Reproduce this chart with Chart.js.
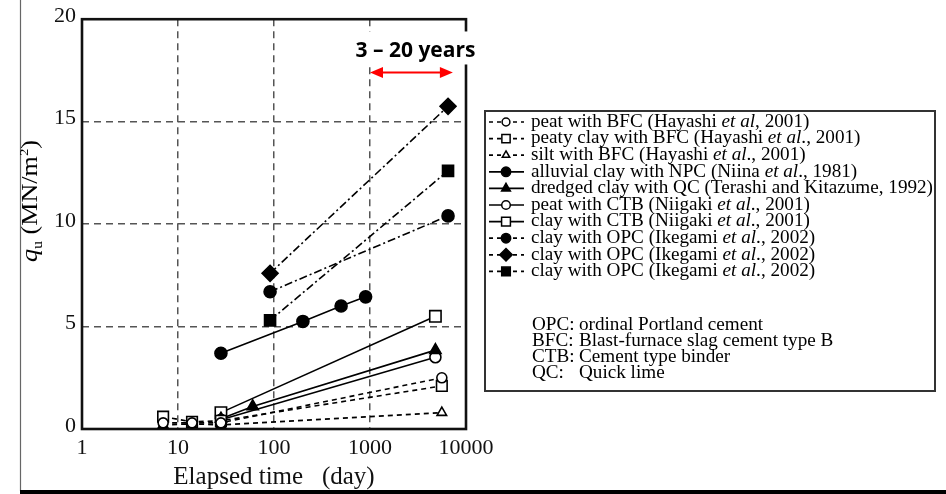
<!DOCTYPE html>
<html><head><meta charset="utf-8">
<script src="https://cdn.jsdelivr.net/npm/chart.js@4.4.1/dist/chart.umd.min.js"></script>
<style>html,body{margin:0;padding:0;background:#fff;overflow:hidden}
#wrap{position:relative;width:946px;height:494px}</style>
</head><body><div id="wrap"><canvas id="c" width="946" height="494"></canvas></div>
<script>
// ---------- data ----------
const xTicks = [1, 10, 100, 1000, 10000];
const yTicks = [0, 5, 10, 15, 20];

const bfcDays = [7, 14, 28, 5600];
const peatBFC = [0.3, 0.3, 0.3, 2.5];
const peatyClayBFC = [0.6, 0.35, 0.4, 2.1];
const siltBFC = [0.2, 0.25, 0.2, 0.8];

const npcDays = [28, 200, 500, 900];
const alluvialNPC = [3.7, 5.25, 6.0, 6.45];

const qcDays = [28, 60, 4800];
const dredgedQC = [0.5, 1.1, 3.85];

const ctbDays = [28, 4800];
const peatCTB = [0.45, 3.5];
const clayCTB = [0.8, 5.5];

const opcDays = [91, 6500];
const clayOPC1 = [6.7, 10.4];
const clayOPC2 = [7.6, 15.75];
const clayOPC3 = [5.3, 12.6];

const seriesLabels = [
  'peat with BFC (Hayashi et al, 2001)',
  'peaty clay with BFC (Hayashi et al., 2001)',
  'silt with BFC (Hayashi et al., 2001)',
  'alluvial clay with NPC (Niina et al., 1981)',
  'dredged clay with QC (Terashi and Kitazume, 1992)',
  'peat with CTB (Niigaki et al., 2001)',
  'clay with CTB (Niigaki et al., 2001)',
  'clay with OPC (Ikegami et al., 2002)',
  'clay with OPC (Ikegami et al., 2002)',
  'clay with OPC (Ikegami et al., 2002)'
];
const noteAbbr = ['OPC:', 'BFC:', 'CTB:', 'QC:'];
const noteText = ['ordinal Portland cement', 'Blast-furnace slag cement type B', 'Cement type binder', 'Quick lime'];

const spanDays = [1000, 7300];
const spanLevel = 17.4;
const spanLabel = '3 \u2013 20 years';

const xTitle = 'Elapsed time   (day)';
// ----------------------------------------------------

const SERIF = '"Liberation Serif", "Times New Roman", Times, serif';
const DASH = [5, 4];
const DASHDOT = [8, 3, 2, 3];

function pts(days, vals) { return days.map((d, i) => ({ x: d, y: vals[i] })); }
function ds(idx, days, vals, st) {
  return Object.assign({
    label: seriesLabels[idx], data: pts(days, vals), showLine: true,
    borderColor: '#000', borderWidth: 1.6, pointBorderColor: '#000', pointBorderWidth: 1.6,
    pointHoverRadius: st.pointRadius
  }, st);
}
const openPt = { pointBackgroundColor: '#fff' };
const fillPt = { pointBackgroundColor: '#000' };

const datasets = [
  ds(0, bfcDays, peatBFC, Object.assign({ borderDash: DASH, pointStyle: 'circle', pointRadius: 5 }, openPt)),
  ds(1, bfcDays, peatyClayBFC, Object.assign({ borderDash: DASH, pointStyle: 'rect', pointRadius: 7.5 }, openPt)),
  ds(2, bfcDays, siltBFC, Object.assign({ borderDash: DASH, pointStyle: 'triangle', pointRadius: 5.5 }, openPt)),
  ds(3, npcDays, alluvialNPC, Object.assign({ pointStyle: 'circle', pointRadius: 6 }, fillPt)),
  ds(4, qcDays, dredgedQC, Object.assign({ pointStyle: 'triangle', pointRadius: 6.5 }, fillPt)),
  ds(5, ctbDays, peatCTB, Object.assign({ pointStyle: 'circle', pointRadius: 5.5 }, openPt)),
  ds(6, ctbDays, clayCTB, Object.assign({ pointStyle: 'rect', pointRadius: 8 }, openPt)),
  ds(7, opcDays, clayOPC1, Object.assign({ borderDash: DASHDOT, pointStyle: 'circle', pointRadius: 6 }, fillPt)),
  ds(8, opcDays, clayOPC2, Object.assign({ borderDash: DASHDOT, pointStyle: 'rectRot', pointRadius: 8 }, fillPt)),
  ds(9, opcDays, clayOPC3, Object.assign({ borderDash: DASHDOT, pointStyle: 'rect', pointRadius: 7.8 }, fillPt))
];

function drawMarker(ctx, style, x, y, r, fill) {
  ctx.beginPath();
  if (style === 'circle') ctx.arc(x, y, r, 0, Math.PI * 2);
  else if (style === 'rect') { const s = r * Math.SQRT1_2; ctx.rect(x - s, y - s, 2 * s, 2 * s); }
  else if (style === 'rectRot') { ctx.moveTo(x, y - r); ctx.lineTo(x + r, y); ctx.lineTo(x, y + r); ctx.lineTo(x - r, y); ctx.closePath(); }
  else if (style === 'triangle') {
    const h = r * Math.sqrt(3) / 2;
    ctx.moveTo(x, y - r); ctx.lineTo(x + h, y + r / 2); ctx.lineTo(x - h, y + r / 2); ctx.closePath();
  }
  ctx.fillStyle = fill; ctx.fill(); ctx.stroke();
}

function drawRich(ctx, text, x, y, size, sx) {
  ctx.save();
  ctx.translate(x, y); ctx.scale(sx, 1);
  const parts = text.split(/(et al)/);
  let cx = 0;
  for (const p of parts) {
    if (!p) continue;
    ctx.font = (p === 'et al' ? 'italic ' : '') + size + 'px ' + SERIF;
    ctx.fillText(p, cx, 0);
    cx += ctx.measureText(p).width;
  }
  ctx.restore();
}

const framePlugin = {
  id: 'frame',
  beforeDraw(chart) {
    const ctx = chart.ctx;
    ctx.save();
    ctx.fillStyle = '#fff'; ctx.fillRect(0, 0, chart.width, chart.height);
    ctx.strokeStyle = '#666'; ctx.lineWidth = 1.2;
    ctx.beginPath(); ctx.moveTo(20.5, 0); ctx.lineTo(20.5, 491); ctx.stroke();
    ctx.fillStyle = '#000'; ctx.fillRect(20, 490, chart.width - 20, 4);
    ctx.restore();
  },
  beforeDatasetsDraw(chart) {
    const { ctx, chartArea: a } = chart;
    ctx.save();
    ctx.strokeStyle = '#111'; ctx.lineWidth = 2.6;
    ctx.strokeRect(a.left, a.top, a.right - a.left, a.bottom - a.top);
    ctx.restore();
  },
  afterDatasetsDraw(chart) {
    const { ctx } = chart;
    const xs = chart.scales.x, ys = chart.scales.y;
    const x1 = xs.getPixelForValue(spanDays[0]), x2 = xs.getPixelForValue(spanDays[1]);
    const ya = ys.getPixelForValue(spanLevel);
    ctx.save();
    ctx.font = 'bold 21px "Open Sans", "Liberation Sans", sans-serif';
    const w = ctx.measureText(spanLabel).width;
    const cx = (x1 + x2) / 2 + 4;
    ctx.fillStyle = '#fff';
    ctx.fillRect(cx - w / 2 - 4, ya - 41, w + 8, 33);
    ctx.fillStyle = '#000'; ctx.textAlign = 'center'; ctx.textBaseline = 'alphabetic';
    ctx.fillText(spanLabel, cx, ya - 15);
    // red double arrow
    ctx.strokeStyle = '#f00'; ctx.fillStyle = '#f00'; ctx.lineWidth = 2;
    ctx.beginPath(); ctx.moveTo(x1 + 8, ya); ctx.lineTo(x2 - 8, ya); ctx.stroke();
    ctx.beginPath(); ctx.moveTo(x1, ya); ctx.lineTo(x1 + 13, ya - 5.5); ctx.lineTo(x1 + 13, ya + 5.5); ctx.closePath(); ctx.fill();
    ctx.beginPath(); ctx.moveTo(x2, ya); ctx.lineTo(x2 - 13, ya - 5.5); ctx.lineTo(x2 - 13, ya + 5.5); ctx.closePath(); ctx.fill();
    ctx.restore();
  },
  afterDraw(chart) {
    const ctx = chart.ctx;
    ctx.save();
    // y-axis title  q_u (MN/m2)
    const yt = [['q', 'italic 23px', 0], ['u', '14px', 5], [' (MN/m', '23px', 0], ['2', '13px', -9], [')', '23px', 0]];
    let tot = 0;
    for (const [t, f] of yt) { ctx.font = f + ' ' + SERIF; tot += ctx.measureText(t).width; }
    const sy = 122 / tot;
    ctx.translate(37, 262); ctx.rotate(-Math.PI / 2); ctx.scale(sy, 1);
    ctx.fillStyle = '#000'; ctx.textBaseline = 'alphabetic';
    let px = 0;
    for (const [t, f, dy] of yt) { ctx.font = f + ' ' + SERIF; ctx.fillText(t, px, dy); px += ctx.measureText(t).width; }
    ctx.restore();

    // legend box
    ctx.save();
    ctx.strokeStyle = '#333'; ctx.lineWidth = 2;
    ctx.strokeRect(485, 111, 450, 280);
    ctx.font = '18px ' + SERIF;
    const sx = 402 / ctx.measureText(seriesLabels[4]).width;
    ctx.textBaseline = 'middle';
    chart.data.datasets.forEach((d, i) => {
      const y = 122 + i * 16.6;
      ctx.strokeStyle = '#000'; ctx.lineWidth = 1.7;
      ctx.setLineDash(d.borderDash ? [4, 4] : []);
      ctx.beginPath(); ctx.moveTo(489, y); ctx.lineTo(524, y); ctx.stroke();
      ctx.setLineDash([]); ctx.lineWidth = 1.5;
      drawMarker(ctx, d.pointStyle, 506, y, d.pointRadius * 0.78, d.pointBackgroundColor);
      ctx.fillStyle = '#000';
      drawRich(ctx, d.label, 531, y, 18, sx);
    });
    noteAbbr.forEach((t, i) => {
      const y = 325 + i * 16.2;
      drawRich(ctx, t, 532, y, 18, sx);
      drawRich(ctx, noteText[i], 579, y, 18, sx);
    });
    ctx.restore();
  }
};

const gridColor = c => (c.tick && (c.tick.value === c.scale.min || c.tick.value === c.scale.max)) ? 'rgba(0,0,0,0)' : '#555';

new Chart(document.getElementById('c'), {
  type: 'scatter',
  data: { datasets },
  options: {
    animation: false, responsive: false, events: [],
    layout: { padding: { left: 0, top: 16, right: 480, bottom: 0 } },
    plugins: { legend: { display: false }, tooltip: { enabled: false } },
    scales: {
      x: {
        type: 'logarithmic', min: xTicks[0], max: xTicks[xTicks.length - 1],
        afterBuildTicks: s => { s.ticks = xTicks.map(v => ({ value: v })); },
        afterFit: s => { s.height = 65; },
        ticks: { color: '#111', font: { family: SERIF, size: 22 }, padding: 6, maxRotation: 0, autoSkip: false, callback: v => String(v) },
        grid: { drawTicks: false, color: gridColor, lineWidth: 1.5 },
        border: { display: false, dash: [7, 5] },
        title: { display: true, text: xTitle, color: '#111', font: { family: SERIF, size: 25 }, padding: { top: 0, bottom: 2 } }
      },
      y: {
        min: yTicks[0], max: yTicks[yTicks.length - 1],
        afterBuildTicks: s => { s.ticks = yTicks.map(v => ({ value: v })); },
        afterFit: s => { s.width = 82; },
        ticks: { color: '#111', font: { family: SERIF, size: 22 }, padding: 6, autoSkip: false, labelOffset: -3 },
        grid: { drawTicks: false, color: gridColor, lineWidth: 1.5 },
        border: { display: false, dash: [7, 5] }
      }
    }
  },
  plugins: [framePlugin]
});
</script></body></html>
